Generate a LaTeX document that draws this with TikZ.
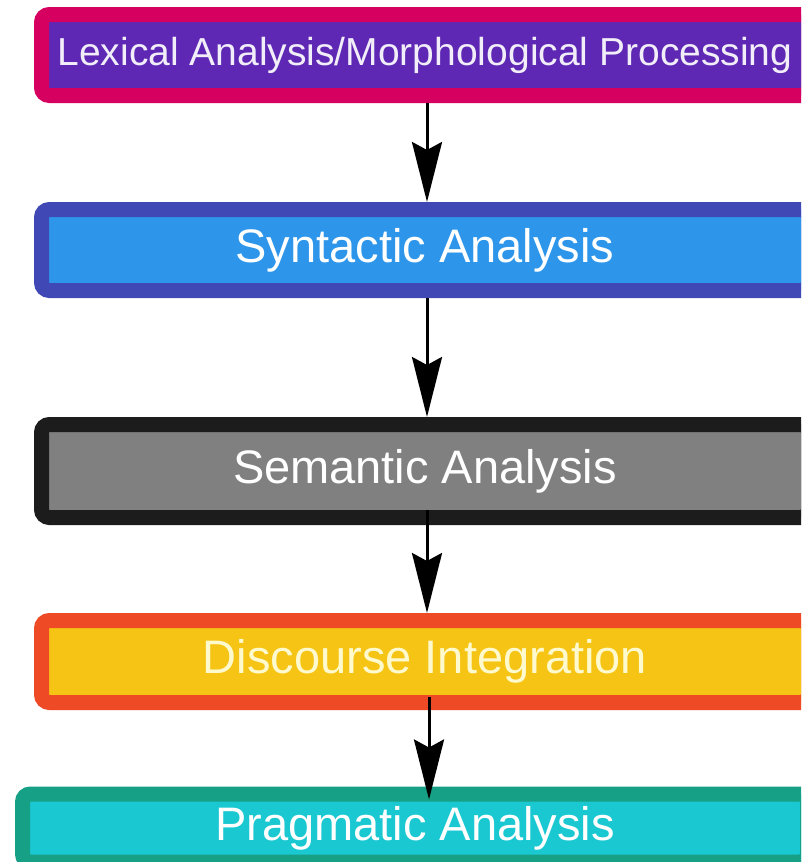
\documentclass[tikz,border=0pt]{standalone}
\usepackage{fontspec}
\setmainfont{Liberation Sans}
\usetikzlibrary{arrows.meta}
\definecolor{lexborder}{RGB}{214,0,96}
\definecolor{lexfill}{RGB}{94,40,180}
\definecolor{synborder}{RGB}{63,72,180}
\definecolor{synfill}{RGB}{45,150,235}
\definecolor{semborder}{RGB}{28,28,28}
\definecolor{semfill}{RGB}{128,128,128}
\definecolor{disborder}{RGB}{238,74,38}
\definecolor{disfill}{RGB}{245,196,20}
\definecolor{pragborder}{RGB}{22,160,133}
\definecolor{pragfill}{RGB}{26,200,210}
\definecolor{cream}{RGB}{255,250,205}
\tikzset{
  stage/.style={draw, line width=15pt, rounded corners=8pt, minimum width=767pt,
    minimum height=81pt, text=white, font=\fontsize{47}{50}\selectfont},
  flow/.style={-{Stealth[length=60pt, width=30pt, inset=8pt]}, line width=3pt}
}
\begin{document}
\begin{tikzpicture}[x=1pt, y=-1pt]
            \useasboundingbox (0,0) rectangle (801,862);
            \clip (0,0) rectangle (801,862);
            \fill[white] (0,0) rectangle (801,862);
            % stages
            \node[stage, draw=lexborder, fill=lexfill, text=white!92!lexfill,
                font=\fontsize{39}{42}\selectfont] (lex) at (425,55) {Lexical Analysis/Morphological Processing};
            \node[stage, draw=synborder, fill=synfill] (syn) at (425,250) {Syntactic Analysis};
            \node[stage, draw=semborder, fill=semfill, minimum height=93pt] (sem) at (425,471) {Semantic Analysis};
            \node[stage, draw=disborder, fill=disfill, text=cream, minimum height=82pt] (dis) at (425,661.5) {Discourse Integration};
            \node[stage, draw=pragborder, fill=pragfill, minimum width=785pt, minimum height=68pt] (prag) at (415,828) {Pragmatic Analysis};
            % arrows
            \draw[flow] ([xshift=2pt]lex.south) -- ([xshift=2pt]lex.south |- syn.north);
            \draw[flow] ([xshift=2pt]syn.south) -- ([xshift=2pt]syn.south |- sem.north);
            \draw[flow] ([xshift=2pt, yshift=15pt]sem.south) -- ([xshift=2pt]sem.south |- dis.north);
            \draw[flow] ([xshift=4pt, yshift=13pt]dis.south) -- ([xshift=4pt, yshift=-13pt]dis.south |- prag.north);
        \end{tikzpicture}
\end{document}
